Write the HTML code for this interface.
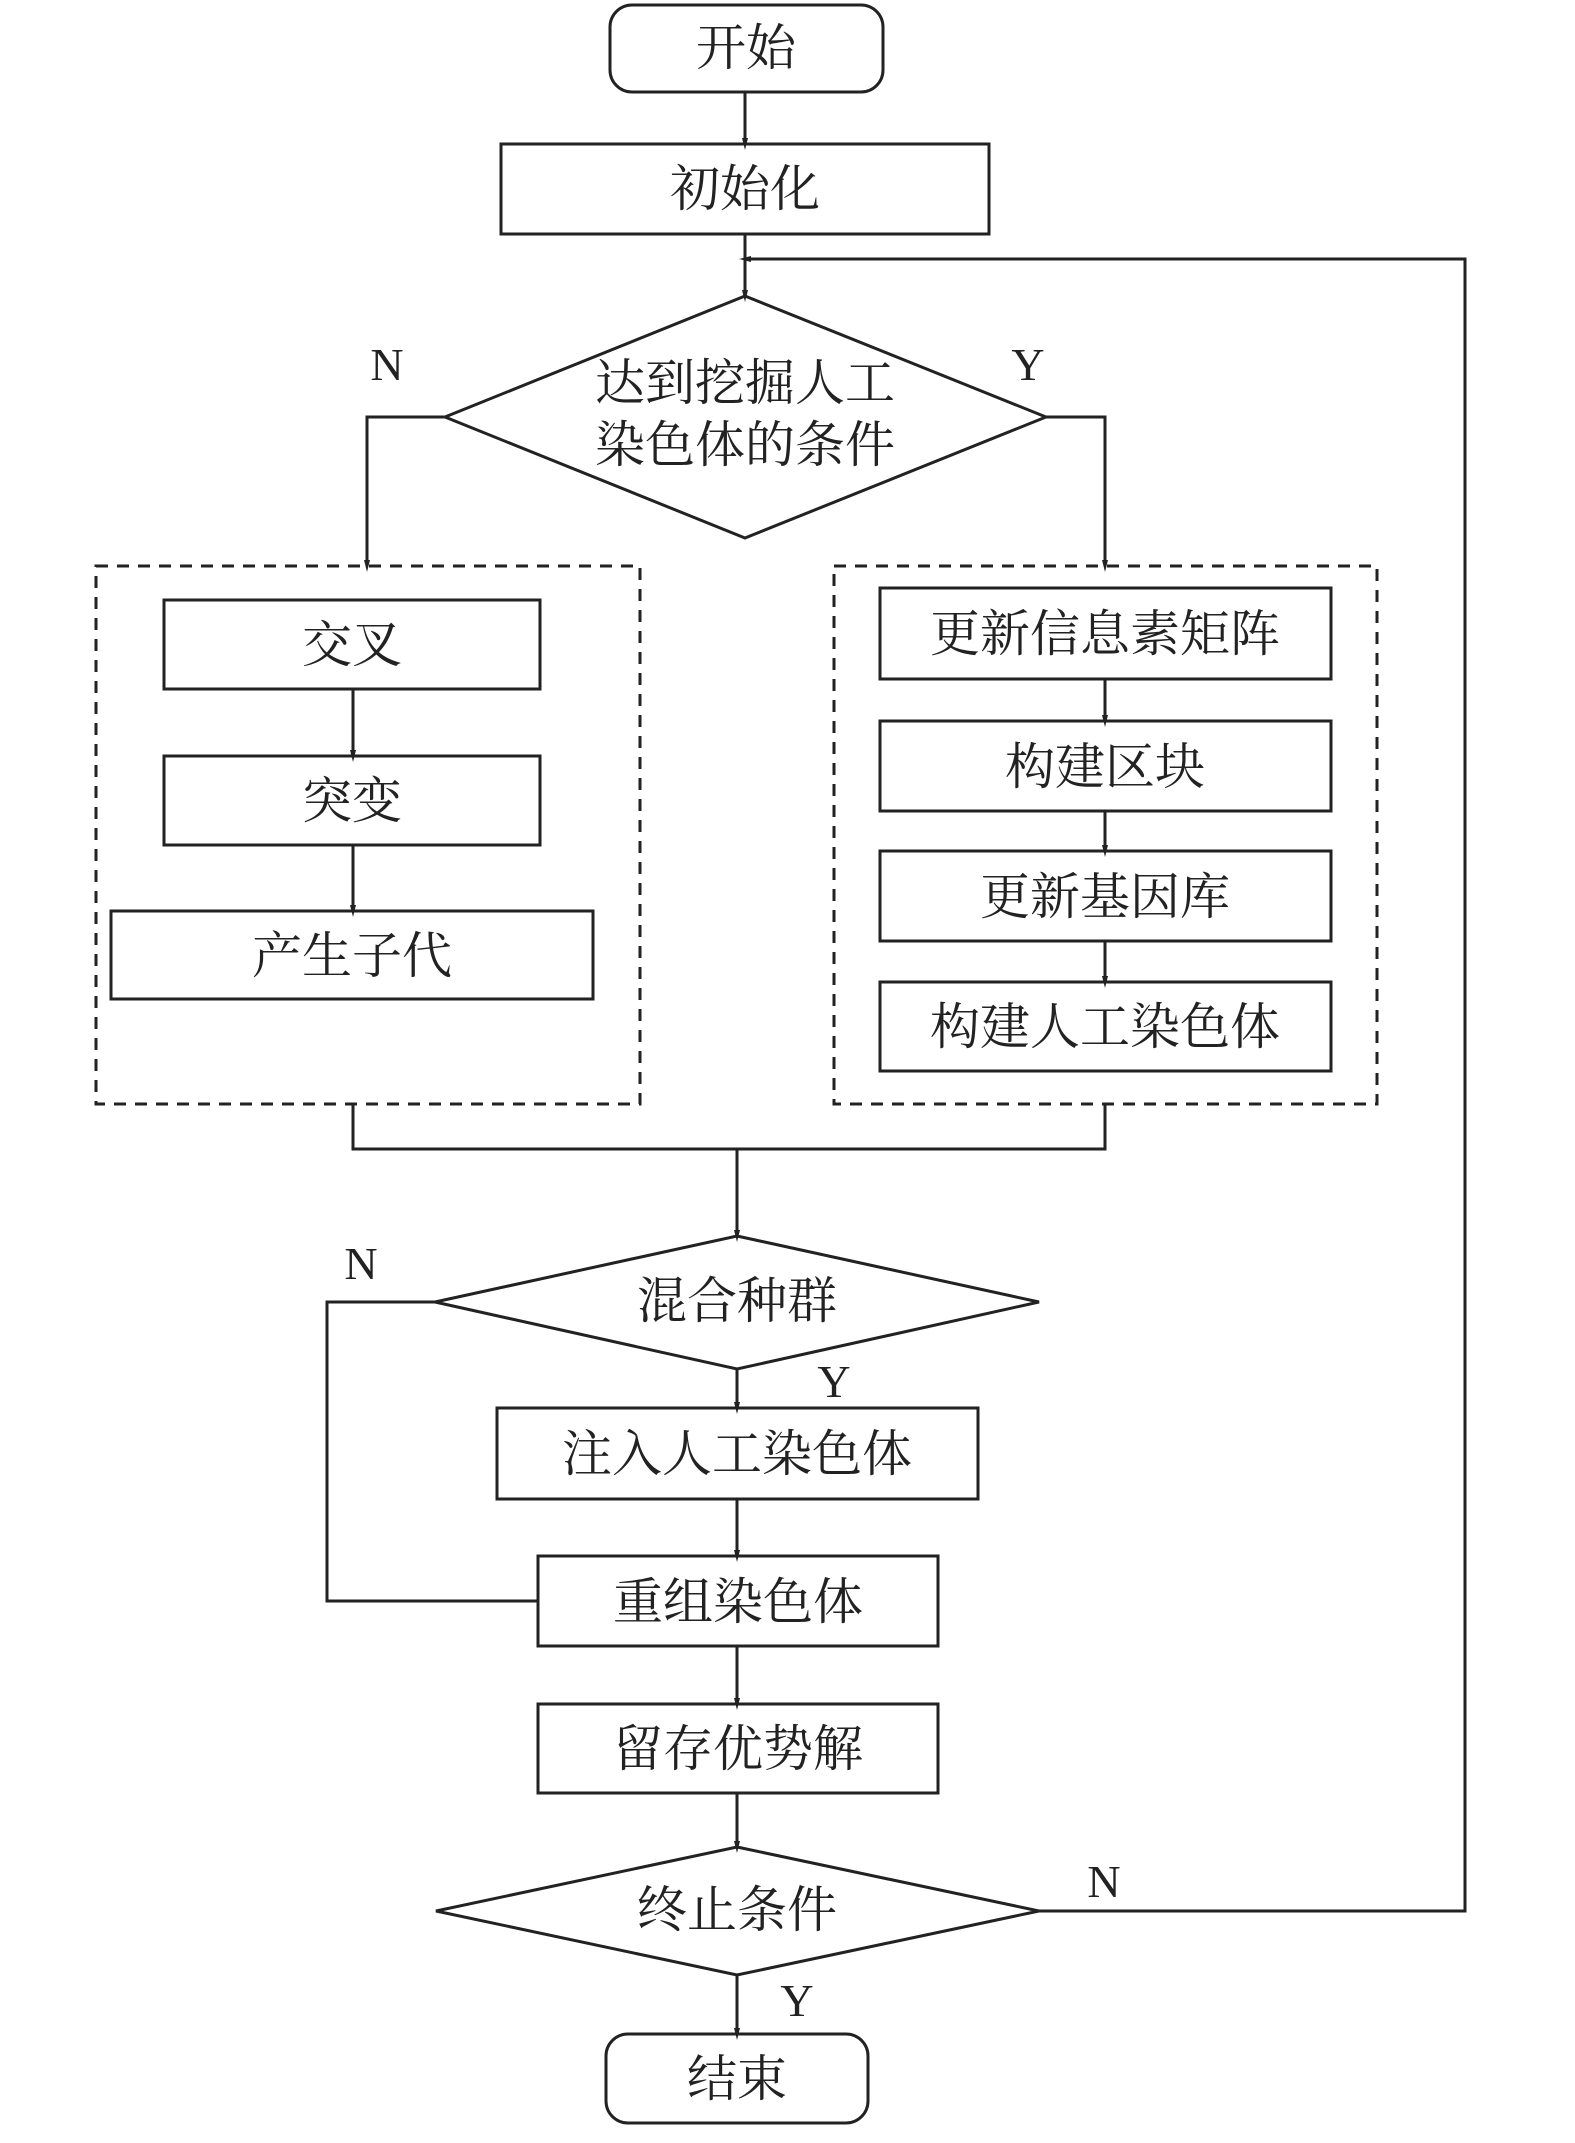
<!DOCTYPE html>
<html><head><meta charset="utf-8"><style>
html,body{margin:0;padding:0;background:#fff;}
svg{display:block;}
text{font-family:"Liberation Serif","Noto Serif CJK SC",serif;fill:#222;}
</style></head><body>
<svg width="1575" height="2143" viewBox="0 0 1575 2143" xmlns="http://www.w3.org/2000/svg">
<defs>
<marker id="a" markerWidth="12" markerHeight="24" refX="12" refY="6" orient="auto" markerUnits="userSpaceOnUse" viewBox="0 0 24 12">
<path d="M0,0 L24,6 L0,12 Z" fill="#222"/></marker>
</defs>
<g stroke="#222" stroke-width="3" fill="none">
<rect x="610" y="5" width="273" height="87" rx="22"/>
<rect x="501" y="144" width="488" height="90"/>
<polygon points="745,296 1046,417 745,538 445,417"/>
<rect x="96" y="566" width="544" height="538" stroke-dasharray="12,9"/>
<rect x="834" y="566" width="543" height="538" stroke-dasharray="12,9"/>
<rect x="164" y="600" width="376" height="89"/>
<rect x="164" y="756" width="376" height="89"/>
<rect x="111" y="911" width="482" height="88"/>
<rect x="880" y="588" width="451" height="91"/>
<rect x="880" y="721" width="451" height="90"/>
<rect x="880" y="851" width="451" height="90"/>
<rect x="880" y="982" width="451" height="89"/>
<polygon points="737,1236 1039,1302 737,1369 435,1302"/>
<rect x="497" y="1408" width="481" height="91"/>
<rect x="538" y="1556" width="400" height="90"/>
<rect x="538" y="1704" width="400" height="89"/>
<polygon points="737,1847 1039,1911 737,1975 436,1911"/>
<rect x="606" y="2034" width="262" height="89" rx="22"/>
<!-- connectors -->
<line x1="745" y1="92" x2="745" y2="144" marker-end="url(#a)"/>
<line x1="745" y1="234" x2="745" y2="296" marker-end="url(#a)"/>
<polyline points="1039,1911 1465,1911 1465,259 745,259" marker-end="url(#a)"/>
<polyline points="445,417 367,417 367,566" marker-end="url(#a)"/>
<polyline points="1046,417 1105,417 1105,566" marker-end="url(#a)"/>
<line x1="353" y1="689" x2="353" y2="756" marker-end="url(#a)"/>
<line x1="353" y1="845" x2="353" y2="911" marker-end="url(#a)"/>
<line x1="1105" y1="679" x2="1105" y2="721" marker-end="url(#a)"/>
<line x1="1105" y1="811" x2="1105" y2="851" marker-end="url(#a)"/>
<line x1="1105" y1="941" x2="1105" y2="982" marker-end="url(#a)"/>
<polyline points="353,1104 353,1149 1105,1149 1105,1104"/>
<line x1="737" y1="1149" x2="737" y2="1236" marker-end="url(#a)"/>
<line x1="737" y1="1369" x2="737" y2="1408" marker-end="url(#a)"/>
<polyline points="435,1302 327,1302 327,1601 538,1601"/>
<line x1="737" y1="1499" x2="737" y2="1556" marker-end="url(#a)"/>
<line x1="737" y1="1646" x2="737" y2="1704" marker-end="url(#a)"/>
<line x1="737" y1="1793" x2="737" y2="1847" marker-end="url(#a)"/>
<line x1="737" y1="1975" x2="737" y2="2034" marker-end="url(#a)"/>
</g>
<g font-size="50" text-anchor="middle">
<text x="746" y="65">开始</text>
<text x="745" y="206">初始化</text>
<text x="745" y="400">达到挖掘人工</text>
<text x="745" y="462">染色体的条件</text>
<text x="352" y="662">交叉</text>
<text x="352" y="818">突变</text>
<text x="352" y="973">产生子代</text>
<text x="1105" y="651">更新信息素矩阵</text>
<text x="1105" y="784">构建区块</text>
<text x="1105" y="914">更新基因库</text>
<text x="1105" y="1044">构建人工染色体</text>
<text x="737" y="1318">混合种群</text>
<text x="737" y="1471">注入人工染色体</text>
<text x="738" y="1619">重组染色体</text>
<text x="738" y="1766">留存优势解</text>
<text x="737" y="1927">终止条件</text>
<text x="737" y="2096">结束</text>
<text x="387" y="380" font-size="46">N</text>
<text x="1028" y="380" font-size="46">Y</text>
<text x="361" y="1279" font-size="46">N</text>
<text x="834" y="1397" font-size="46">Y</text>
<text x="1104" y="1897" font-size="46">N</text>
<text x="797" y="2016" font-size="46">Y</text>
</g>
</svg>
</body></html>
